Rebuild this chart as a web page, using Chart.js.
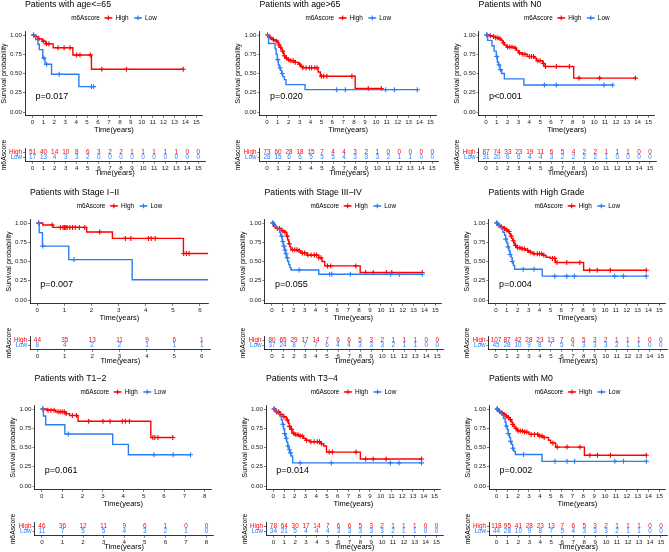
<!DOCTYPE html>
<html><head><meta charset="utf-8">
<script src="https://cdn.jsdelivr.net/npm/chart.js@4/dist/chart.umd.min.js"></script>
<style>
html,body{margin:0;padding:0;background:#fff;}
body{width:669px;height:552px;overflow:hidden;position:relative;}
canvas{position:absolute;}
</style>
</head><body>
<script>
// ---------------- DATA ----------------
const titles = ["Patients with age<=65","Patients with age>65","Patients with N0",
  "Patients with Stage I\u2212II","Patients with Stage III\u2212IV","Patients with High Grade",
  "Patients with T1\u22122","Patients with T3\u22124","Patients with M0"];
const pValues = ["p=0.017","p=0.020","p<0.001","p=0.007","p=0.055","p=0.004","p=0.061","p=0.014","p=0.002"];
const groupNames = ["High","Low"];
const legendTitle = "m6Ascore";
const ticks15 = [0,1,2,3,4,5,6,7,8,9,10,11,12,13,14,15];
const ticks6 = [0,1,2,3,4,5,6];
const ticks8 = [0,1,2,3,4,5,6,7,8];
const yTickValues = [0,0.25,0.5,0.75,1];
const yTickLabels = ["0.00","0.25","0.50","0.75","1.00"];

// Panel 1: age<=65
const p1HighTime = [0,0.2,0.5,0.9,1.2,1.9,3.7,5.4,13.8];
const p1HighSurv = [1,0.98,0.95,0.92,0.885,0.835,0.74,0.555,0.555];
const p1HighCens = [0.1,0.6,1.0,1.3,1.5,2.35,2.9,3.45,4.05,4.35,5.3,6.35,8.6,13.8];
const p1LowTime = [0,0.3,0.5,0.63,0.95,1.15,1.75,4.25,5.6];
const p1LowSurv = [1,0.94,0.88,0.81,0.70,0.62,0.49,0.33,0.33];
const p1LowCens = [0.1,1.05,1.3,2.45,5.4,5.6];
const p1RiskHigh = [51,40,14,10,8,6,3,2,2,1,1,1,1,1,0,0];
const p1RiskLow = [17,13,4,3,3,2,0,0,0,0,0,0,0,0,0,0];

// Panel 2: age>65
const p2HighTime = [0,0.1,0.2,0.35,0.5,0.7,0.9,1.0,1.1,1.2,1.3,1.4,1.5,1.6,1.7,1.9,2.1,2.6,2.9,3.1,3.3,4.7,4.9,8.1,10.5];
const p2HighSurv = [1,0.985,0.97,0.955,0.94,0.93,0.92,0.90,0.87,0.84,0.82,0.79,0.76,0.73,0.70,0.68,0.665,0.645,0.62,0.595,0.575,0.52,0.465,0.305,0.305];
const p2HighCens = [0.05,0.3,0.6,0.9,1.1,1.25,1.45,1.6,1.8,2.0,2.2,2.4,2.6,3.0,3.3,3.6,3.9,4.1,4.4,4.6,5.0,5.2,5.5,7.8,9.3,10.5];
const p2LowTime = [0,0.15,0.75,0.85,0.95,1.05,1.15,1.25,1.35,1.45,1.6,1.75,3.5,13.8];
const p2LowSurv = [1,0.89,0.82,0.75,0.68,0.61,0.575,0.54,0.50,0.46,0.42,0.355,0.29,0.29];
const p2LowCens = [1.0,1.2,1.4,6.4,7.2,10.9,11.7,13.8];
const p2RiskHigh = [73,60,28,18,15,7,4,4,3,2,1,0,0,0,0,0];
const p2RiskLow = [28,15,6,6,5,5,5,4,3,3,3,2,1,1,0,0];

// Panel 3: N0
const p3HighTime = [0,0.3,0.6,0.9,1.2,1.4,1.55,1.7,1.9,2.6,2.8,3.0,3.3,3.8,4.5,4.65,5.25,5.45,8.1,13.8];
const p3HighSurv = [1,0.99,0.98,0.965,0.95,0.93,0.90,0.87,0.845,0.83,0.80,0.77,0.75,0.72,0.70,0.665,0.63,0.59,0.44,0.44];
const p3HighCens = [0.1,0.4,0.7,0.9,1.1,1.3,1.6,2.0,2.2,2.4,2.7,3.1,3.4,3.6,4.0,4.2,4.4,4.8,5.0,5.3,5.5,6.5,7.7,8.6,10.5,13.8];
const p3LowTime = [0,0.15,0.55,0.75,0.95,1.05,1.15,1.3,1.45,1.7,3.5,11.7];
const p3LowSurv = [1,0.93,0.86,0.79,0.72,0.65,0.61,0.55,0.50,0.43,0.35,0.35];
const p3LowCens = [0.05,1.0,1.2,1.35,5.4,6.5,10.9,11.7];
const p3RiskHigh = [87,74,33,23,19,11,6,5,4,2,2,1,1,1,0,0];
const p3RiskLow = [31,20,6,6,4,4,3,2,2,2,2,1,0,0,0,0];

// Panel 4: Stage I-II
const p4HighTime = [0,0.2,0.58,1.82,2.77,5.39,6.3];
const p4HighSurv = [1,0.974,0.943,0.883,0.80,0.604,0.604];
const p4HighCens = [0.05,0.55,0.85,0.95,1.0,1.05,1.1,1.2,1.3,1.4,1.55,1.75,2.3,3.25,3.45,4.1,4.2,4.35,5.4,5.5,5.6];
const p4LowTime = [0,0.07,0.19,1.16,3.5,6.3];
const p4LowSurv = [1,0.875,0.70,0.525,0.2625,0.2625];
const p4LowCens = [0.05,0.2,1.35];
const p4RiskHigh = [44,35,13,11,9,6,1];
const p4RiskLow = [8,4,2,2,1,1,1];

// Panel 5: Stage III-IV
const p5HighTime = [0,0.15,0.3,0.45,0.85,1.15,1.35,1.45,1.55,1.65,1.75,2.4,2.65,3.25,4.3,4.6,4.85,8.1,13.8];
const p5HighSurv = [1,0.975,0.955,0.93,0.90,0.88,0.83,0.78,0.73,0.69,0.652,0.64,0.61,0.583,0.548,0.50,0.443,0.357,0.357];
const p5HighCens = [0.1,0.3,0.5,0.7,1.0,1.2,1.4,1.6,1.9,2.1,2.3,2.5,2.8,3.0,3.3,3.6,3.9,4.1,4.3,4.5,5.1,5.4,7.7,8.6,9.3,10.5,11.0,13.8];
const p5LowTime = [0,0.2,0.35,0.5,0.7,0.8,0.95,1.05,1.15,1.25,1.35,1.45,1.55,1.65,1.75,4.3,13.8];
const p5LowSurv = [1,0.97,0.95,0.92,0.88,0.83,0.76,0.70,0.65,0.60,0.55,0.50,0.46,0.42,0.39,0.335,0.335];
const p5LowCens = [0.05,0.9,1.0,1.1,1.2,1.3,1.4,2.5,5.3,5.5,7.2,10.9,11.7,13.8];
const p5RiskHigh = [80,65,29,17,14,7,6,6,5,3,2,1,1,1,0,0];
const p5RiskLow = [37,24,8,7,7,6,4,4,3,3,3,2,1,1,0,0];

// Panel 6: High Grade
const p6HighTime = [0,0.15,0.3,0.5,0.7,0.9,1.1,1.25,1.35,1.45,1.55,1.65,1.75,1.9,2.3,2.7,3.0,3.4,4.3,4.6,5.0,5.45,8.05,13.8];
const p6HighSurv = [1,0.98,0.965,0.95,0.93,0.91,0.89,0.86,0.83,0.80,0.77,0.74,0.71,0.68,0.665,0.645,0.62,0.60,0.58,0.555,0.54,0.487,0.387,0.387];
const p6HighCens = [0.1,0.3,0.5,0.8,1.0,1.2,1.4,1.6,1.8,2.0,2.2,2.4,2.6,2.9,3.2,3.5,3.8,4.0,4.2,4.4,5.2,5.4,5.6,6.5,7.7,8.6,9.3,10.5,13.8];
const p6LowTime = [0,0.2,0.35,0.5,0.65,0.8,0.9,1.0,1.1,1.2,1.3,1.4,1.5,1.6,1.72,4.25,13.8];
const p6LowSurv = [1,0.97,0.95,0.92,0.88,0.84,0.79,0.74,0.69,0.64,0.59,0.55,0.50,0.45,0.40,0.31,0.31];
const p6LowCens = [0.05,0.9,1.1,1.3,1.5,2.5,3.5,5.4,6.5,7.2,10.9,11.7,13.8];
const p6RiskHigh = [107,87,42,28,23,13,7,6,5,3,2,1,1,1,0,0];
const p6RiskLow = [45,28,10,9,8,7,5,4,3,3,3,2,1,1,0,0];

// Panel 7: T1-2
const p7HighTime = [0,0.25,0.68,1.17,1.36,1.78,5.35,6.43];
const p7HighSurv = [1,0.985,0.965,0.94,0.915,0.84,0.63,0.63];
const p7HighCens = [0.05,0.3,0.45,0.6,0.8,0.9,1.0,1.1,1.2,1.5,1.7,2.3,3.0,3.35,3.95,4.1,4.3,5.45,5.55,5.7,6.43];
const p7LowTime = [0,0.08,0.19,1.13,3.48,4.25,7.3];
const p7LowSurv = [1,0.909,0.795,0.675,0.54,0.405,0.405];
const p7LowCens = [0.05,1.3,5.5,6.45,7.3];
const p7RiskHigh = [46,36,12,11,9,6,1,0,0];
const p7RiskLow = [11,7,5,5,4,3,2,1,0];

// Panel 8: T3-4
const p8HighTime = [0,0.2,0.6,0.9,1.2,1.3,1.4,1.5,1.6,1.75,2.0,2.4,2.8,3.0,3.4,4.4,4.7,4.95,8.1,13.8];
const p8HighSurv = [1,0.965,0.93,0.90,0.88,0.855,0.815,0.775,0.735,0.685,0.665,0.65,0.62,0.595,0.575,0.55,0.52,0.44,0.35,0.35];
const p8HighCens = [0.1,0.3,0.5,0.7,1.0,1.3,1.5,1.7,1.9,2.1,2.3,2.5,2.7,3.1,3.5,3.8,4.1,4.3,4.5,5.2,5.5,7.7,8.6,9.3,10.5,13.8];
const p8LowTime = [0,0.2,0.4,0.6,0.75,0.85,0.95,1.05,1.15,1.25,1.35,1.45,1.55,1.65,1.8,13.8];
const p8LowSurv = [1,0.97,0.94,0.91,0.86,0.80,0.74,0.68,0.62,0.57,0.52,0.47,0.43,0.39,0.30,0.30];
const p8LowCens = [0.05,0.9,1.05,1.2,1.35,1.5,1.6,2.5,5.4,10.9,11.7,13.8];
const p8RiskHigh = [78,64,30,17,14,7,6,6,5,3,2,1,1,1,0,0];
const p8RiskLow = [34,21,5,4,4,4,3,3,3,3,3,2,1,1,0,0];

// Panel 9: M0
const p9HighTime = [0,0.15,0.3,0.5,0.7,0.9,1.1,1.25,1.4,1.5,1.6,1.7,1.85,2.0,2.6,3.0,3.9,4.3,4.8,5.0,5.45,8.1,13.8];
const p9HighSurv = [1,0.98,0.965,0.95,0.93,0.91,0.89,0.86,0.83,0.80,0.775,0.75,0.73,0.715,0.70,0.67,0.65,0.63,0.595,0.56,0.505,0.40,0.40];
const p9HighCens = [0.1,0.3,0.5,0.7,0.9,1.1,1.3,1.5,1.8,2.0,2.2,2.4,2.6,2.8,3.2,3.5,3.8,4.0,4.2,4.4,5.2,5.6,6.5,7.7,8.6,9.3,10.5,13.8];
const p9LowTime = [0,0.2,0.35,0.5,0.65,0.8,0.9,1.0,1.1,1.2,1.3,1.4,1.5,1.6,1.75,4.2,13.8];
const p9LowSurv = [1,0.97,0.95,0.92,0.88,0.83,0.78,0.73,0.68,0.63,0.58,0.54,0.49,0.45,0.41,0.32,0.32];
const p9LowCens = [0.05,0.9,1.1,1.3,1.5,2.5,5.4,6.5,7.2,10.9,11.7,13.8];
const p9RiskHigh = [118,95,41,28,23,13,7,6,5,3,2,1,1,1,0,0];
const p9RiskLow = [44,28,10,9,8,7,5,4,3,3,3,2,1,1,0,0];

// ---------------- BUILD ----------------
const RED = '#FF0000', BLUE = '#2B7CF6';
const FONT = '"Liberation Sans", Arial, Helvetica, sans-serif';
Chart.defaults.font.family = FONT;
Chart.defaults.color = '#000';

const panels = [
  {hT:p1HighTime,hS:p1HighSurv,hC:p1HighCens,lT:p1LowTime,lS:p1LowSurv,lC:p1LowCens,rH:p1RiskHigh,rL:p1RiskLow,ticks:ticks15},
  {hT:p2HighTime,hS:p2HighSurv,hC:p2HighCens,lT:p2LowTime,lS:p2LowSurv,lC:p2LowCens,rH:p2RiskHigh,rL:p2RiskLow,ticks:ticks15},
  {hT:p3HighTime,hS:p3HighSurv,hC:p3HighCens,lT:p3LowTime,lS:p3LowSurv,lC:p3LowCens,rH:p3RiskHigh,rL:p3RiskLow,ticks:ticks15},
  {hT:p4HighTime,hS:p4HighSurv,hC:p4HighCens,lT:p4LowTime,lS:p4LowSurv,lC:p4LowCens,rH:p4RiskHigh,rL:p4RiskLow,ticks:ticks6},
  {hT:p5HighTime,hS:p5HighSurv,hC:p5HighCens,lT:p5LowTime,lS:p5LowSurv,lC:p5LowCens,rH:p5RiskHigh,rL:p5RiskLow,ticks:ticks15},
  {hT:p6HighTime,hS:p6HighSurv,hC:p6HighCens,lT:p6LowTime,lS:p6LowSurv,lC:p6LowCens,rH:p6RiskHigh,rL:p6RiskLow,ticks:ticks15},
  {hT:p7HighTime,hS:p7HighSurv,hC:p7HighCens,lT:p7LowTime,lS:p7LowSurv,lC:p7LowCens,rH:p7RiskHigh,rL:p7RiskLow,ticks:ticks8},
  {hT:p8HighTime,hS:p8HighSurv,hC:p8HighCens,lT:p8LowTime,lS:p8LowSurv,lC:p8LowCens,rH:p8RiskHigh,rL:p8RiskLow,ticks:ticks15},
  {hT:p9HighTime,hS:p9HighSurv,hC:p9HighCens,lT:p9LowTime,lS:p9LowSurv,lC:p9LowCens,rH:p9RiskHigh,rL:p9RiskLow,ticks:ticks15}
];
// geometry (pixels) of each panel
const geom = [
  {axL:25,   axR:205,   xmin:-0.68, xmax:15.6, rowY:0},
  {axL:259.5,axR:438.9, xmin:-0.68, xmax:15.6, rowY:0},
  {axL:478.6,axR:656.5, xmin:-0.68, xmax:15.6, rowY:0},
  {axL:30,   axR:210.7, xmin:-0.27, xmax:6.33, rowY:188},
  {axL:264.5,axR:443.9, xmin:-0.68, xmax:15.6, rowY:188},
  {axL:488.5,axR:667.3, xmin:-0.68, xmax:15.6, rowY:188},
  {axL:34.5, axR:213.7, xmin:-0.36, xmax:8.35, rowY:374},
  {axL:266,  axR:443,   xmin:-0.68, xmax:15.6, rowY:374},
  {axL:489,  axR:667.5, xmin:-0.68, xmax:15.6, rowY:374}
];

function stepAt(T,S,t){let v=S[0];for(let i=0;i<T.length;i++){if(T[i]<=t+1e-9)v=S[i];else break;}return v;}
function pts(T,S){return T.map((t,i)=>({x:t,y:S[i]}));}
function cens(T,S,C){return C.map(t=>({x:t,y:stepAt(T,S,t)}));}

function mkCanvas(left,top,w,h){
  const c=document.createElement('canvas');
  c.width=Math.round(w);c.height=Math.round(h);
  c.style.left=left+'px';c.style.top=top+'px';
  c.style.width=Math.round(w)+'px';c.style.height=Math.round(h)+'px';
  document.body.appendChild(c);return c;
}

const kmDecor = {
  id:'kmDecor',
  afterDraw(chart, args, opts){
    const ctx=chart.ctx, a=chart.chartArea;
    ctx.save();
    const fs=6.4;
    ctx.font = fs+'px '+FONT;
    ctx.textBaseline='middle';
    const ly = a.top - 13.2;
    const wT = ctx.measureText(legendTitle).width;
    const wH = ctx.measureText(groupNames[0]).width;
    const wL = ctx.measureText(groupNames[1]).width;
    const key=8, g1=4.5, g2=3, g3=5.5;
    const total = wT+g1+key+g2+wH+g3+key+g2+wL;
    let x = (a.left+a.right)/2 - total/2;
    ctx.fillStyle='#000'; ctx.textAlign='left';
    ctx.fillText(legendTitle,x,ly); x+=wT+g1;
    [[RED,groupNames[0],wH],[BLUE,groupNames[1],wL]].forEach(([col,txt,w],k)=>{
      ctx.strokeStyle=col; ctx.lineWidth=1.4;
      ctx.beginPath();ctx.moveTo(x,ly);ctx.lineTo(x+key,ly);ctx.stroke();
      ctx.lineWidth=1.1;ctx.beginPath();
      ctx.moveTo(x+key/2,ly-2.4);ctx.lineTo(x+key/2,ly+2.4);
      ctx.moveTo(x+key/2-2.4,ly);ctx.lineTo(x+key/2+2.4,ly);ctx.stroke();
      x+=key+g2;
      ctx.fillStyle='#000';ctx.fillText(txt,x,ly);x+=w+(k===0?g3:0);
    });
    const xs=chart.scales.x, ys=chart.scales.y;
    ctx.font='9px '+FONT; ctx.fillStyle='#000'; ctx.textAlign='left'; ctx.textBaseline='middle';
    ctx.fillText(opts.pval, xs.getPixelForValue(0)+3, ys.getPixelForValue(0.2));
    ctx.restore();
  }
};
const riskText = {
  id:'riskText',
  afterDatasetsDraw(chart){
    const ctx=chart.ctx;
    ctx.save();
    ctx.font='6.4px '+FONT; ctx.textAlign='center'; ctx.textBaseline='middle';
    chart.data.datasets.forEach((ds,i)=>{
      const meta=chart.getDatasetMeta(i);
      ctx.fillStyle=ds.textColor;
      meta.data.forEach((el,j)=>ctx.fillText(String(ds.counts[j]),el.x,el.y));
    });
    ctx.restore();
  }
};

function xScaleOpts(g,ticks,h,tb){
  return {
    type:'linear', min:g.xmin, max:g.xmax,
    afterBuildTicks:s=>{s.ticks=ticks.map(v=>({value:v}));},
    afterFit:s=>{s.height=h;},
    ticks:{font:{size:6.2},color:'#222',padding:0.5,maxRotation:0,autoSkip:false,callback:v=>String(v)},
    grid:{display:true,drawOnChartArea:false,drawTicks:true,tickLength:2,color:'#222',lineWidth:0.6},
    border:{display:true,color:'#000',width:0.8},
    title:{display:true,text:'Time(years)',color:'#000',font:{size:7.5},padding:{top:0,bottom:tb}}
  };
}

panels.forEach((p,i)=>{
  const g=geom[i];
  const cl=Math.floor(g.axL-27);
  const yW=g.axL-cl;
  const cw=Math.ceil(g.axR-cl+3);
  // KM chart
  const kmTop=g.rowY-2, kmH=138;
  const c1=mkCanvas(cl,kmTop,cw,kmH);
  new Chart(c1,{
    type:'line',
    data:{datasets:[
      {label:groupNames[0],data:pts(p.hT,p.hS),borderColor:RED,borderWidth:1.4,stepped:'before',pointRadius:0,fill:false,order:4},
      {label:groupNames[1],data:pts(p.lT,p.lS),borderColor:BLUE,borderWidth:1.4,stepped:'before',pointRadius:0,fill:false,order:2},
      {label:groupNames[0]+' censored',data:cens(p.hT,p.hS,p.hC),showLine:false,pointStyle:'cross',pointRadius:2.5,borderColor:RED,backgroundColor:RED,borderWidth:1.1,order:3},
      {label:groupNames[1]+' censored',data:cens(p.lT,p.lS,p.lC),showLine:false,pointStyle:'cross',pointRadius:2.5,borderColor:BLUE,backgroundColor:BLUE,borderWidth:1.1,order:1}
    ]},
    options:{
      responsive:false,animation:false,devicePixelRatio:1,
      layout:{padding:{left:0,right:cw-(g.axR-cl),top:0,bottom:0}},
      plugins:{
        legend:{display:false},tooltip:{enabled:false},
        title:{display:true,text:titles[i],align:'start',fullSize:false,color:'#000',font:{size:8.7,weight:'normal'},padding:{top:1.28,bottom:21.43}},
        kmDecor:{pval:pValues[i]}
      },
      scales:{
        x:xScaleOpts(g,p.ticks,kmH-117.85,1.2),
        y:{type:'linear',min:-0.05,max:1.05,
          afterBuildTicks:s=>{s.ticks=yTickValues.map(v=>({value:v}));},
          afterFit:s=>{s.width=yW;},
          ticks:{font:{size:6.2},color:'#222',padding:1,callback:v=>yTickLabels[yTickValues.indexOf(v)]},
          grid:{display:true,drawOnChartArea:false,drawTicks:true,tickLength:2,color:'#222',lineWidth:0.6},
          border:{display:true,color:'#000',width:0.8},
          title:{display:true,text:'Survival probability',color:'#000',font:{size:7.2},padding:{top:1.6,bottom:0}}
        }
      }
    },
    plugins:[kmDecor]
  });
  // risk table
  const rTop=g.rowY+140, rH=39;
  const c2=mkCanvas(cl,rTop,cw,rH);
  new Chart(c2,{
    type:'line',
    data:{datasets:[
      {label:groupNames[0],data:p.ticks.map(t=>({x:t,y:1})),counts:p.rH,textColor:RED,showLine:false,pointRadius:0},
      {label:groupNames[1],data:p.ticks.map(t=>({x:t,y:0})),counts:p.rL,textColor:BLUE,showLine:false,pointRadius:0}
    ]},
    options:{
      responsive:false,animation:false,devicePixelRatio:1,
      layout:{padding:{left:0,right:cw-(g.axR-cl),top:8.3,bottom:0}},
      plugins:{legend:{display:false},tooltip:{enabled:false},title:{display:false}},
      scales:{
        x:xScaleOpts(g,p.ticks,rH-21.7,1.2),
        y:{type:'linear',min:-0.74,max:1.74,
          afterBuildTicks:s=>{s.ticks=[{value:0},{value:1}];},
          afterFit:s=>{s.width=yW;},
          ticks:{font:{size:6.3},padding:1,color:c=>(c.tick&&c.tick.value===1)?RED:BLUE,callback:v=>v===1?groupNames[0]:groupNames[1]},
          grid:{display:true,drawOnChartArea:false,drawTicks:true,tickLength:2,color:'#222',lineWidth:0.6},
          border:{display:true,color:'#000',width:0.8},
          title:{display:true,text:legendTitle,color:'#000',font:{size:6.8},padding:{top:1.8,bottom:0}}
        }
      }
    },
    plugins:[riskText]
  });
});
</script>
</body></html>
